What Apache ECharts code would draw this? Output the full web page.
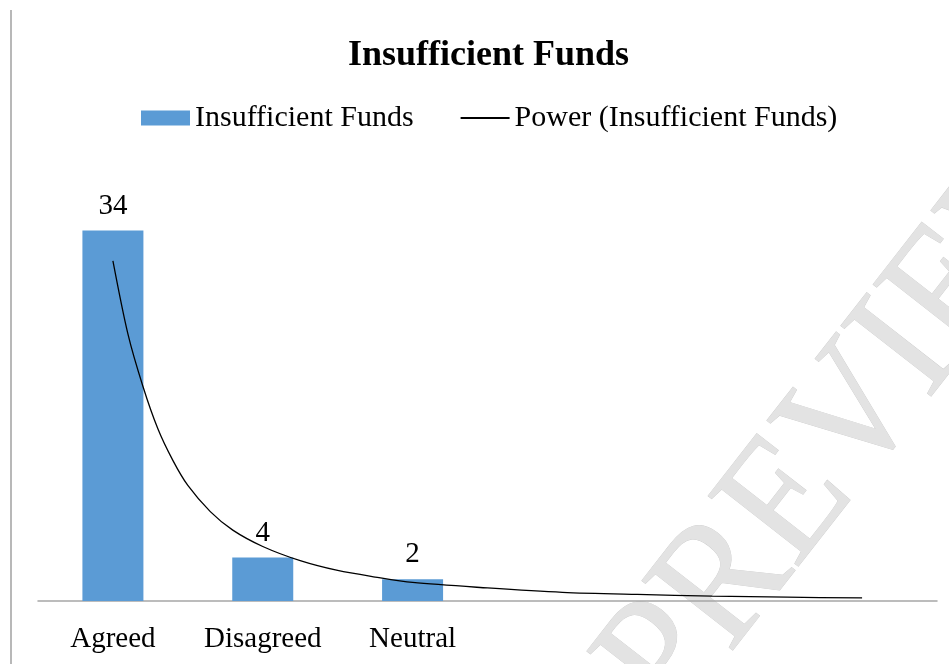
<!DOCTYPE html>
<html>
<head>
<meta charset="utf-8">
<script src="https://cdn.jsdelivr.net/npm/echarts@6/dist/echarts.min.js"></script>
<style>
  html, body { margin: 0; padding: 0; background: #fff; }
  #chart { width: 949px; height: 664px; }
</style>
</head>
<body>
<div id="chart"></div>
<script>
// categories on the x axis (last three are empty slots the trendline runs over)
var categories = ["Agreed", "Disagreed", "Neutral", "", "", ""];
var barValues = [34, 4, 2, null, null, null];

// power trendline, points (x = category position, 1-based)
var trendX = [1, 1.1, 1.2, 1.3, 1.4, 1.5, 1.65, 1.8, 2, 2.25, 2.5, 2.75, 3, 3.5, 4, 4.5, 5, 5.5, 6];
var trendY = [31.2, 24.5, 19.7, 15.8, 12.9, 10.6, 8.2, 6.5, 5.0, 3.7, 2.8, 2.2, 1.7, 1.2, 0.8, 0.6, 0.45, 0.35, 0.28];

var serif = "'Liberation Serif', 'Times New Roman', serif";

var chart = echarts.init(document.getElementById("chart"));

var trendData = [];
for (var i = 0; i < trendX.length; i++) {
  trendData.push([trendX[i], trendY[i]]);
}

chart.setOption({
  backgroundColor: "#fff",
  animation: false,
  title: {
    text: "Insufficient Funds",
    left: 343,
    top: 33,
    textStyle: {
      fontFamily: serif,
      fontSize: 36,
      fontWeight: "bold",
      color: "#000"
    }
  },
  legend: {
    left: 136,
    top: 98,
    itemWidth: 49,
    itemHeight: 15,
    itemGap: 46,
    textStyle: { fontFamily: serif, fontSize: 30, color: "#000" },
    data: [
      { name: "Insufficient Funds", icon: "rect" },
      { name: "Power (Insufficient Funds)", itemStyle: { opacity: 0 } }
    ]
  },
  grid: {
    left: 38,
    right: 12,
    top: 165,
    bottom: 63,
    containLabel: false
  },
  xAxis: [
    {
      type: "category",
      data: categories,
      axisLine: { lineStyle: { color: "#a6a6a6", width: 1.5 } },
      axisTick: { show: false },
      axisLabel: {
        fontFamily: serif,
        fontSize: 29,
        color: "#000",
        margin: 24,
        interval: 0
      }
    },
    {
      type: "value",
      min: 0.5,
      max: 6.5,
      show: false
    }
  ],
  yAxis: {
    type: "value",
    min: 0,
    max: 40,
    show: false,
    splitLine: { show: false }
  },
  graphic: [
    {
      type: "line",
      shape: { x1: 11, y1: 10, x2: 11, y2: 664 },
      style: { stroke: "#a0a0a0", lineWidth: 1.5 },
      z: 0
    },
    {
      // watermark
      type: "text",
      x: 638,
      y: 697,
      rotation: 0.908,
      scaleX: 0.92,
      z: 0,
      style: {
        text: "PREVIEW",
        font: "175px 'Liberation Serif', serif",
        fill: "#e3e3e3",
        stroke: "#cdcdcd",
        lineWidth: 0.8,
        align: "left",
        verticalAlign: "middle"
      }
    }
  ],
  series: [
    {
      name: "Insufficient Funds",
      type: "bar",
      data: barValues,
      barWidth: 61,
      itemStyle: { color: "#5b9bd5" },
      label: {
        show: true,
        position: "top",
        distance: 10,
        fontFamily: serif,
        fontSize: 29,
        color: "#000"
      },
      z: 2
    },
    {
      name: "Power (Insufficient Funds)",
      type: "line",
      xAxisIndex: 1,
      data: trendData,
      smooth: 0.3,
      symbol: "none",
      lineStyle: { color: "#000", width: 1.3 },
      itemStyle: { color: "#000", opacity: 0 },
      z: 3
    }
  ]
});
</script>
</body>
</html>
